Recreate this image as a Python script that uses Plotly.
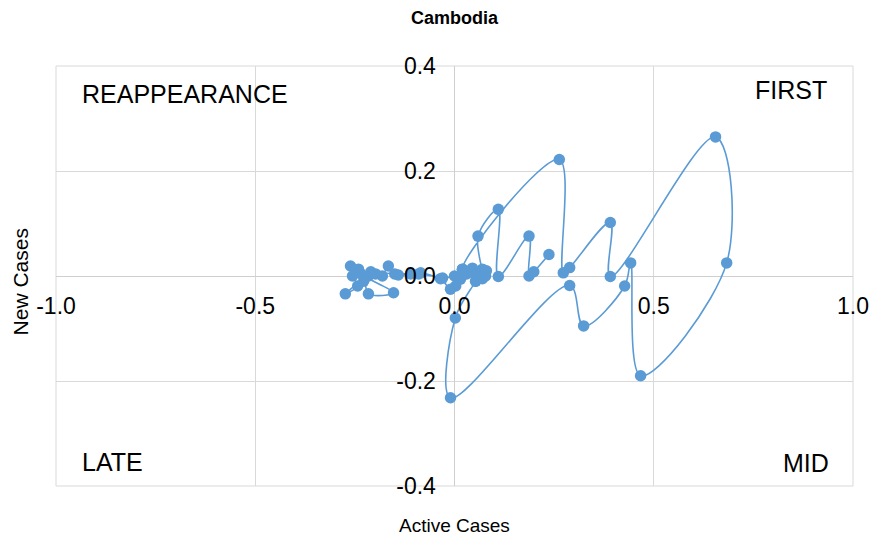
import plotly.graph_objects as go

# Chronological path of (Active Cases, New Cases)
active_cases = [
    0.000, -0.030, -0.085, -0.110, -0.141, -0.166, -0.181, -0.198, -0.216, -0.241,
    -0.261, -0.256, -0.243, -0.274, -0.228, -0.216, -0.153, -0.236, -0.210, -0.150,
    -0.090, -0.035, -0.010, 0.003, 0.015, 0.020, 0.030, 0.045, 0.060, 0.070,
    0.078, 0.053, 0.040, 0.020, 0.263, 0.273, 0.289, 0.391, 0.391, 0.655,
    0.683, 0.467, 0.442, 0.427, 0.324, 0.289, -0.010, 0.002, 0.053, 0.065,
    0.080, 0.055, 0.070, 0.059, 0.110, 0.110, 0.187, 0.187, 0.199, 0.237,
]
new_cases = [
    0.000, -0.004, 0.006, 0.004, 0.002, 0.019, 0.000, 0.004, 0.000, 0.013,
    0.019, 0.000, -0.019, -0.034, -0.010, -0.034, -0.032, 0.005, 0.008, 0.004,
    0.004, -0.005, -0.025, -0.019, -0.006, 0.013, 0.004, 0.015, 0.004, 0.013,
    0.000, -0.010, 0.008, 0.013, 0.222, 0.006, 0.016, 0.102, -0.001, 0.265,
    0.025, -0.190, 0.025, -0.019, -0.095, -0.018, -0.232, -0.080, -0.010, 0.008,
    0.010, 0.000, -0.005, 0.076, 0.127, -0.001, 0.076, 0.000, 0.008, 0.041,
]

x_ticks = [-1.0, -0.5, 0.0, 0.5, 1.0]
y_ticks = [-0.4, -0.2, 0.0, 0.2, 0.4]

quadrant_labels = ["REAPPEARANCE", "FIRST", "LATE", "MID"]
quadrant_x = [-0.941, 0.941, -0.941, 0.944]
quadrant_y = [0.347, 0.354, -0.354, -0.356]
quadrant_anchor = ["left", "right", "left", "right"]

title_text = "Cambodia"
x_title = "Active Cases"
y_title = "New Cases"

COLOR = "#5B9BD5"
FONT = "Liberation Sans, Arial, sans-serif"
GRID = "#D9D9D9"

fig = go.Figure()
fig.add_trace(go.Scatter(
    x=active_cases, y=new_cases, mode="lines+markers",
    line=dict(color=COLOR, width=1.6, shape="spline", smoothing=1.0),
    marker=dict(color=COLOR, size=11.5),
    showlegend=False, hoverinfo="x+y",
))

for t, xx, yy, a in zip(quadrant_labels, quadrant_x, quadrant_y, quadrant_anchor):
    fig.add_annotation(x=xx, y=yy, xref="x", yref="y", text=t, showarrow=False,
                       xanchor=a, yanchor="middle",
                       font=dict(family=FONT, size=25, color="#000000"))

fig.add_annotation(x=0.5, y=-0.093, xref="paper", yref="paper", text=x_title,
                   showarrow=False, xanchor="center", yanchor="middle",
                   font=dict(family=FONT, size=19, color="#000000"))
fig.add_annotation(x=-0.045, y=0.485, xref="paper", yref="paper", text=y_title,
                   showarrow=False, textangle=-90, xanchor="center", yanchor="middle",
                   font=dict(family=FONT, size=21, color="#000000"))

fig.add_shape(type="rect", xref="paper", yref="paper", x0=0, x1=1, y0=0, y1=1,
              line=dict(color=GRID, width=1), layer="below")

fig.update_layout(
    width=875, height=544,
    margin=dict(l=56, r=22, t=66, b=58, autoexpand=False),
    paper_bgcolor="white", plot_bgcolor="white",
    title=dict(text="<b>%s</b>" % title_text, x=0.5, xref="paper",
               y=1 - 18 / 544, yref="container", yanchor="middle",
               font=dict(family=FONT, size=18, color="#000000")),
    xaxis=dict(range=[-1, 1], tickvals=x_ticks, ticktext=["%.1f" % v for v in x_ticks],
               showgrid=True, gridcolor=GRID, gridwidth=1,
               zeroline=True, zerolinecolor="#CFCFCF", zerolinewidth=1.3,
               showline=False, anchor="free", position=0.5, automargin=False,
               ticks="outside", ticklen=9, tickcolor="rgba(0,0,0,0)",
               tickfont=dict(family=FONT, size=23, color="#000000")),
    yaxis=dict(range=[-0.4, 0.4], tickvals=y_ticks, ticktext=["%.1f" % v for v in y_ticks],
               showgrid=True, gridcolor=GRID, gridwidth=1,
               zeroline=True, zerolinecolor="#CFCFCF", zerolinewidth=1.3,
               showline=False, anchor="free", position=0.5, automargin=False,
               ticks="outside", ticklen=14, tickcolor="rgba(0,0,0,0)",
               tickfont=dict(family=FONT, size=23, color="#000000")),
)

fig.write_html("out.html", config={"displayModeBar": False},
               post_script="document.body.style.margin='0px';document.body.style.padding='0px';")
